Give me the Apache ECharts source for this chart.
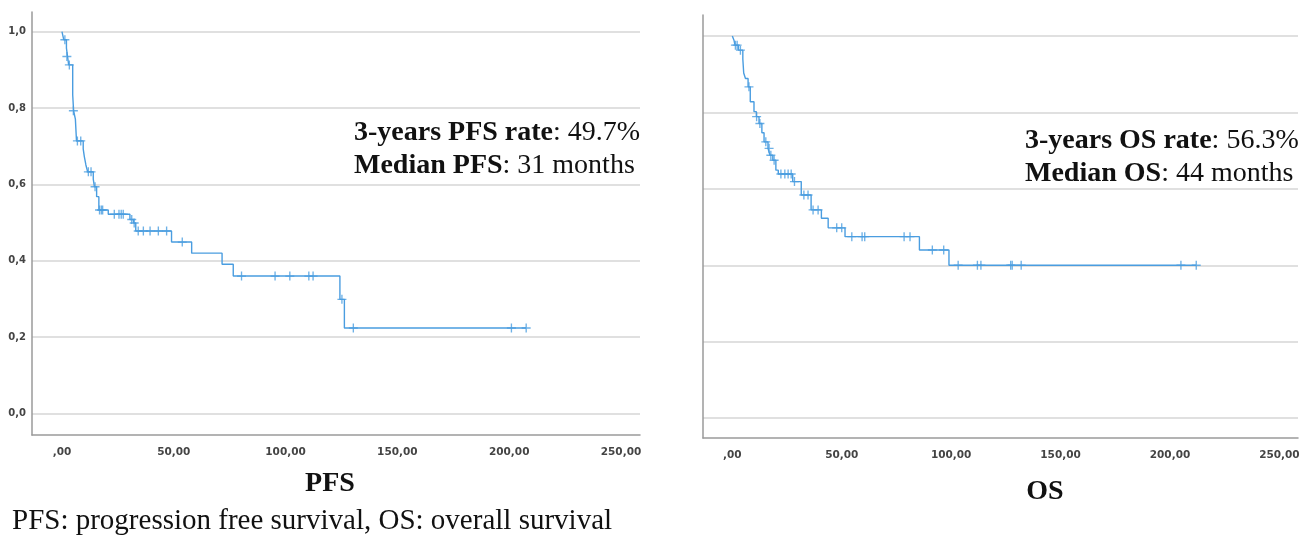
<!DOCTYPE html>
<html>
<head>
<meta charset="utf-8">
<script src="https://cdn.jsdelivr.net/npm/echarts@6/dist/echarts.min.js"></script>
<style>
html, body { margin: 0; padding: 0; background: #fff; }
#chart { width: 1309px; height: 540px; }
</style>
</head>
<body>
<div id="chart"></div>
<script>
// PFS Kaplan-Meier steps (months, survival after the drop)
var pfsTime = [0, 0.8, 2, 2.5, 3, 4.8, 5.2, 6, 6.5, 9.5, 10, 10.7, 11.5, 14, 14.5, 15.5, 16.5, 20.7, 30.4, 32, 33, 49, 58, 71.6, 76.6, 124.3, 126.3, 207.6];
var pfsSurv = [1.0, 0.979, 0.957, 0.935, 0.913, 0.835, 0.793, 0.771, 0.714, 0.693, 0.673, 0.651, 0.633, 0.614, 0.594, 0.568, 0.533, 0.522, 0.508, 0.499, 0.478, 0.449, 0.42, 0.391, 0.36, 0.299, 0.224, 0.224];
// PFS censored patients
var pfsCensTime = [1.3, 2.2, 3.3, 5.1, 6.9, 8.4, 11.8, 13, 14.8, 16.8, 17.6, 18.2, 23.4, 25.5, 26.5, 27.4, 31.2, 32.3, 34.1, 36.4, 39.4, 43.1, 46.8, 53.8, 80.3, 95.3, 101.9, 110.4, 112.3, 125.2, 130.3, 201, 207.6];
var pfsCensSurv = [0.979, 0.935, 0.913, 0.793, 0.714, 0.714, 0.633, 0.633, 0.594, 0.533, 0.533, 0.533, 0.522, 0.522, 0.522, 0.522, 0.508, 0.499, 0.478, 0.478, 0.478, 0.478, 0.478, 0.449, 0.36, 0.36, 0.36, 0.36, 0.36, 0.299, 0.224, 0.224, 0.224];

// OS Kaplan-Meier steps
var osTime = [0, 0.8, 1.2, 2.8, 4.8, 5.2, 6, 7.2, 8.2, 9.9, 11, 12.2, 13.5, 14.5, 16.3, 17.2, 18.5, 19.9, 21, 27.6, 31.5, 36, 40.7, 43.8, 51.5, 85.5, 99, 212];
var osSurv = [1.0, 0.988, 0.976, 0.963, 0.94, 0.903, 0.889, 0.867, 0.828, 0.802, 0.789, 0.771, 0.747, 0.723, 0.706, 0.688, 0.675, 0.649, 0.639, 0.619, 0.584, 0.545, 0.523, 0.498, 0.475, 0.44, 0.40, 0.40];
// OS censored patients
var osCensTime = [1.4, 2.2, 3.7, 7.6, 11.1, 12.6, 15.3, 16.8, 17.6, 19.1, 22.2, 24, 25.5, 26.9, 28.4, 32.7, 34.6, 36.9, 39.2, 47.7, 50, 54.6, 59.3, 60.5, 78.5, 81.2, 91.4, 96.6, 103.2, 112, 113.6, 127.2, 127.9, 132, 205, 212];
var osCensSurv = [0.976, 0.976, 0.963, 0.867, 0.789, 0.771, 0.723, 0.706, 0.688, 0.675, 0.639, 0.639, 0.639, 0.639, 0.619, 0.584, 0.584, 0.545, 0.545, 0.498, 0.498, 0.475, 0.475, 0.475, 0.475, 0.475, 0.44, 0.44, 0.40, 0.40, 0.40, 0.40, 0.40, 0.40, 0.40, 0.40];

var xTicks = [0, 50, 100, 150, 200, 250];
var yTicks = [0, 0.2, 0.4, 0.6, 0.8, 1.0];

var blue = '#4a9de0';
var plus = 'path://M3.4,0h1.2v3.4h3.4v1.2h-3.4v3.4h-1.2v-3.4h-3.4v-1.2h3.4z';

function pairs(xs, ys) {
    var out = [];
    for (var i = 0; i < xs.length; i++) out.push([xs[i], ys[i]]);
    return out;
}

function xAxisFor(idx) {
    return {
        gridIndex: idx, type: 'value', min: -13.4, max: 258.5,
        axisLine: { onZero: false, lineStyle: { color: '#9a9a9a', width: 1.5 } },
        axisTick: { show: false, customValues: xTicks },
        splitLine: { show: false },
        axisLabel: {
            customValues: xTicks, margin: 12, color: '#444', fontSize: 10.5, fontWeight: 'bold',
            fontFamily: 'DejaVu Sans',
            formatter: function (v) { return v === 0 ? ',00' : v.toFixed(2).replace('.', ','); }
        }
    };
}

function yAxisFor(idx, min, max, showLabels) {
    return {
        gridIndex: idx, type: 'value', min: min, max: max,
        axisLine: { show: true, onZero: false, lineStyle: { color: '#9a9a9a', width: 1.5 } },
        axisTick: { show: false, customValues: yTicks },
        splitLine: { show: true, lineStyle: { color: '#d6d6d6', width: 1.5 } },
        axisLabel: {
            show: showLabels, customValues: yTicks, margin: 6, color: '#444', fontSize: 10,
            fontWeight: 'bold', fontFamily: 'DejaVu Sans',
            formatter: function (v) { return v.toFixed(1).replace('.', ','); }
        }
    };
}

var richText = {
    b: { fontFamily: 'Liberation Serif', fontSize: 28, fontWeight: 'bold', color: '#111', lineHeight: 33 },
    n: { fontFamily: 'Liberation Serif', fontSize: 28, fontWeight: 'normal', color: '#111', lineHeight: 33 }
};

var chart = echarts.init(document.getElementById('chart'));
chart.setOption({
    animation: false,
    grid: [
        { left: 32, top: 12, width: 608, height: 423 },
        { left: 703, top: 15, width: 595, height: 423 }
    ],
    xAxis: [xAxisFor(0), xAxisFor(1)],
    yAxis: [yAxisFor(0, -0.0563, 1.0516, true), yAxisFor(1, -0.052, 1.055, false)],
    title: [
        {
            left: 354, top: 116, padding: 0,
            text: '{b|3-years PFS rate}{n|: 49.7%}\n{b|Median PFS}{n|: 31 months}',
            textStyle: { fontWeight: 'normal', rich: richText }
        },
        {
            left: 1025, top: 124, padding: 0,
            text: '{b|3-years OS rate}{n|: 56.3%}\n{b|Median OS}{n|: 44 months}',
            textStyle: { fontWeight: 'normal', rich: richText }
        },
        {
            left: 330, top: 470, padding: 0, textAlign: 'center', text: 'PFS',
            textStyle: { fontFamily: 'Liberation Serif', fontSize: 28, fontWeight: 'bold', color: '#111' }
        },
        {
            left: 1045, top: 478, padding: 0, textAlign: 'center', text: 'OS',
            textStyle: { fontFamily: 'Liberation Serif', fontSize: 28, fontWeight: 'bold', color: '#111' }
        },
        {
            left: 12, top: 507, padding: 0, text: 'PFS: progression free survival, OS: overall survival',
            textStyle: { fontFamily: 'Liberation Serif', fontSize: 29, fontWeight: 'normal', color: '#111' }
        }
    ],
    series: [
        {
            type: 'line', xAxisIndex: 0, yAxisIndex: 0, step: 'end', showSymbol: false,
            lineStyle: { color: blue, width: 1.4 }, data: pairs(pfsTime, pfsSurv)
        },
        {
            type: 'scatter', xAxisIndex: 0, yAxisIndex: 0, symbol: plus, symbolSize: 9,
            itemStyle: { color: blue }, data: pairs(pfsCensTime, pfsCensSurv)
        },
        {
            type: 'line', xAxisIndex: 1, yAxisIndex: 1, step: 'end', showSymbol: false,
            lineStyle: { color: blue, width: 1.4 }, data: pairs(osTime, osSurv)
        },
        {
            type: 'scatter', xAxisIndex: 1, yAxisIndex: 1, symbol: plus, symbolSize: 9,
            itemStyle: { color: blue }, data: pairs(osCensTime, osCensSurv)
        }
    ]
});
</script>
</body>
</html>
